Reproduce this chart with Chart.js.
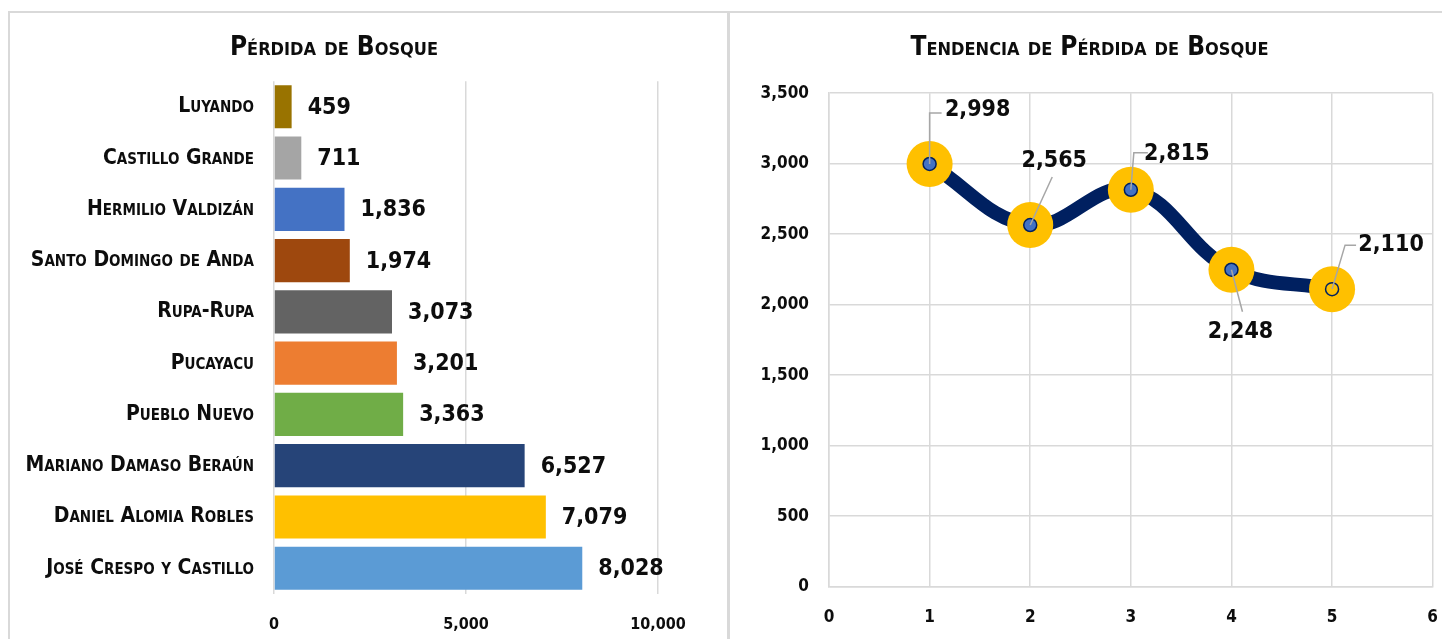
<!DOCTYPE html>
<html>
<head>
<meta charset="utf-8">
<script src="https://cdn.jsdelivr.net/npm/chart.js@4.4.0/dist/chart.umd.min.js"></script>
<style>
body{margin:0;background:#fff;width:1442px;height:639px;overflow:hidden;position:relative}
.panel{position:absolute;top:11px;border:2px solid #d9d9d9;border-bottom:none;background:#fff}
#p1{left:8px;width:717px;height:628px}
#p2{left:728px;width:720px;height:628px;border-right:none}
canvas{display:block}
</style>
</head>
<body>
<div class="panel" id="p1"><canvas id="barChart" width="717" height="645"></canvas></div>
<div class="panel" id="p2"><canvas id="lineChart" width="729" height="648"></canvas></div>
<script>
// datos de los distritos
var distritos = ['Luyando', 'Castillo Grande', 'Hermilio Valdizán', 'Santo Domingo de Anda', 'Rupa-Rupa',
  'Pucayacu', 'Pueblo Nuevo', 'Mariano Damaso Beraún', 'Daniel Alomia Robles', 'José Crespo y Castillo'];
var perdida = [459, 711, 1836, 1974, 3073, 3201, 3363, 6527, 7079, 8028];
var colores = ['#997300', '#a5a5a5', '#4472c4', '#9e480e', '#636363', '#ed7d31', '#70ad47', '#264478', '#ffc000', '#5b9bd5'];
var barTicks = [0, 5000, 10000];

// tendencia
var periodos = [1, 2, 3, 4, 5];
var tendencia = [2998, 2565, 2815, 2248, 2110];
var xTicks = [0, 1, 2, 3, 4, 5, 6];
var yTicks = [0, 500, 1000, 1500, 2000, 2500, 3000, 3500];

var FAM = '"DejaVu Sans Condensed", "Liberation Sans Narrow", sans-serif';
var gris = '#d9d9d9';
function fmt(v) { return v.toLocaleString('en-US'); }

//================= etiquetas de barras =================
var barLabels = {
  id: 'barLabels',
  afterDatasetsDraw: function(chart) {
    var ctx = chart.ctx;
    var meta = chart.getDatasetMeta(0);
    ctx.save();
    ctx.font = 'bold 23px ' + FAM;
    ctx.fillStyle = '#0d0d0d';
    ctx.textAlign = 'left';
    ctx.textBaseline = 'middle';
    meta.data.forEach(function(bar, i) {
      ctx.fillText(fmt(perdida[i]), bar.x + 16, bar.y + 1);
    });
    ctx.restore();
  }
};

new Chart(document.getElementById('barChart'), {
  type: 'bar',
  data: {
    labels: distritos,
    datasets: [{ data: perdida, backgroundColor: colores, barPercentage: 0.84, categoryPercentage: 1 }]
  },
  options: {
    indexAxis: 'y',
    responsive: false,
    animation: false,
    layout: { padding: { right: 69, bottom: 3 } },
    plugins: {
      legend: { display: false },
      tooltip: { enabled: false },
      title: {
        display: true, text: 'Pérdida de Bosque', color: '#0d0d0d',
        font: { family: FAM, size: 26, weight: 'small-caps bold' },
        padding: { top: 20, bottom: 17 }
      }
    },
    scales: {
      x: {
        min: 0, max: 10000,
        afterBuildTicks: function(s) { s.ticks = barTicks.map(function(v) { return { value: v }; }); },
        grid: { color: gris, lineWidth: 1.5, drawTicks: false },
        border: { display: false },
        ticks: { color: '#0d0d0d', padding: 21, font: { family: FAM, size: 16, weight: 'bold' }, callback: function(v) { return fmt(v); } }
      },
      y: {
        afterFit: function(s) { s.width = 264; },
        grid: { display: false, drawTicks: false },
        border: { display: false },
        ticks: { color: '#0d0d0d', padding: 20, font: { family: FAM, size: 21, weight: 'small-caps bold' } }
      }
    }
  },
  plugins: [barLabels]
});

//================= etiquetas de la linea con guias =================
var lineLabels = {
  id: 'lineLabels',
  afterDatasetsDraw: function(chart, args, opts) {
    var ctx = chart.ctx;
    var meta = chart.getDatasetMeta(0);
    ctx.save();
    meta.data.forEach(function(pt, i) {
      var o = opts.pos[i];
      ctx.beginPath();
      ctx.strokeStyle = '#a6a6a6';
      ctx.lineWidth = 1.5;
      ctx.moveTo(pt.x, pt.y);
      o.path.forEach(function(p) { ctx.lineTo(pt.x + p[0], pt.y + p[1]); });
      ctx.stroke();
      ctx.font = 'bold 23px ' + FAM;
      ctx.fillStyle = '#0d0d0d';
      ctx.textAlign = 'center';
      ctx.textBaseline = 'middle';
      ctx.fillText(fmt(tendencia[i]), pt.x + o.dx, pt.y + o.dy);
    });
    ctx.restore();
  }
};

var puntos = periodos.map(function(x, i) { return { x: x, y: tendencia[i] }; });

new Chart(document.getElementById('lineChart'), {
  type: 'line',
  data: {
    datasets: [{
      data: puntos, order: 1,
      borderColor: '#002060', borderWidth: 14, tension: 0.4,
      pointRadius: 23, pointBackgroundColor: '#ffc000', pointBorderColor: '#ffc000', pointBorderWidth: 0
    }, {
      data: puntos, order: 0, showLine: false,
      pointRadius: 6.5, pointBorderWidth: 1.5, pointBorderColor: '#002060',
      pointBackgroundColor: ['#4472c4', '#4472c4', '#4472c4', '#4472c4', '#ffc000']
    }]
  },
  options: {
    responsive: false,
    animation: false,
    layout: { padding: { right: 10, bottom: 12 } },
    plugins: {
      legend: { display: false },
      tooltip: { enabled: false },
      title: {
        display: true, text: 'Tendencia de Pérdida de Bosque', color: '#0d0d0d',
        font: { family: FAM, size: 26, weight: 'small-caps bold' },
        padding: { top: 20, bottom: 29 }
      },
      lineLabels: {
        pos: [
          { dx: 48, dy: -54, path: [[0, -51], [12, -51]] },
          { dx: 24, dy: -64, path: [[22, -48]] },
          { dx: 46, dy: -36, path: [[3, -37], [17, -37]] },
          { dx: 9, dy: 62, path: [[11, 42]] },
          { dx: 59, dy: -44, path: [[13, -44], [24, -44]] }
        ]
      }
    },
    scales: {
      x: {
        type: 'linear', min: 0, max: 6,
        afterBuildTicks: function(s) { s.ticks = xTicks.map(function(v) { return { value: v }; }); },
        grid: { color: gris, lineWidth: 1.5, drawTicks: false },
        border: { color: gris, width: 1.5 },
        ticks: { color: '#0d0d0d', padding: 21, font: { family: FAM, size: 17, weight: 'bold' } }
      },
      y: {
        min: 0, max: 3500,
        afterFit: function(s) { s.width = 99; },
        afterBuildTicks: function(s) { s.ticks = yTicks.map(function(v) { return { value: v }; }); },
        grid: { color: gris, lineWidth: 1.5, drawTicks: false },
        border: { color: gris, width: 1.5 },
        ticks: { color: '#0d0d0d', padding: 20, font: { family: FAM, size: 17, weight: 'bold' }, callback: function(v) { return fmt(v); } }
      }
    }
  },
  plugins: [lineLabels]
});
</script>
</body>
</html>
